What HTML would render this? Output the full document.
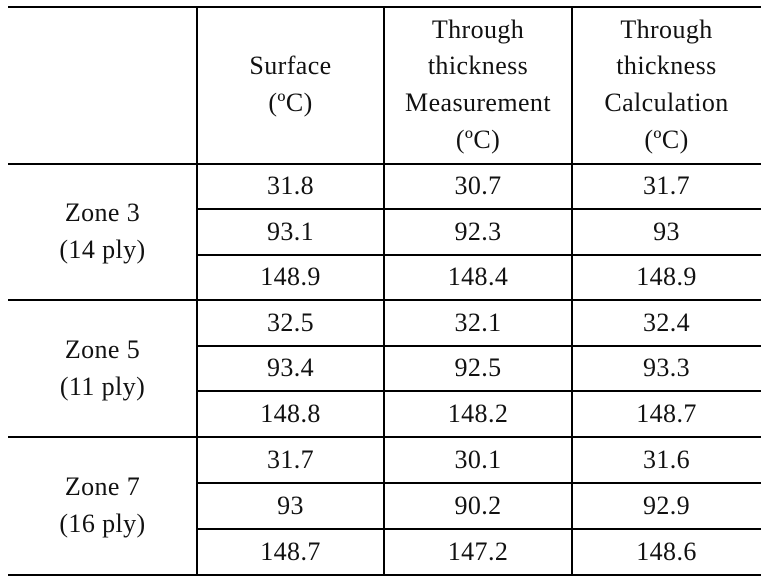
<!DOCTYPE html>
<html><head><meta charset="utf-8"><style>
body{margin:0;width:771px;height:585px;background:#fff;position:relative;overflow:hidden;font-family:"Liberation Serif",serif;color:#111}
.h{position:absolute;background:#000;height:2px}
.v{position:absolute;background:#000;width:2px}
.c{position:absolute;display:flex;align-items:center;justify-content:center;text-align:center;font-size:26px;line-height:36.7px;letter-spacing:0.4px}
</style></head><body>
<div id="t"></div>
<script>
const cols=[8,197,384,572,761];
const rows=[164,209,255,300,346,391,437,483,529,575];
const headers=["Surface<br>(ºC)","Through<br>thickness<br>Measurement<br>(ºC)","Through<br>thickness<br>Calculation<br>(ºC)"];
const zones=["Zone 3<br>(14 ply)","Zone 5<br>(11 ply)","Zone 7<br>(16 ply)"];
const surface=["31.8","93.1","148.9","32.5","93.4","148.8","31.7","93","148.7"];
const measured=["30.7","92.3","148.4","32.1","92.5","148.2","30.1","90.2","147.2"];
const calculated=["31.7","93","148.9","32.4","93.3","148.7","31.6","92.9","148.6"];
const t=document.getElementById('t');
function line(cls,x,y,w,h,name){const d=document.createElement('div');d.className=cls;d.style.left=x+'px';d.style.top=y+'px';
if(w)d.style.width=w+'px';if(h)d.style.height=h+'px';


t.appendChild(d);}
function cell(x,y,w,h,html,name){const d=document.createElement('div');d.className='c';d.style.left=x+'px';d.style.top=y+'px';d.style.width=w+'px';d.style.height=h+'px';d.innerHTML=html;


t.appendChild(d);}
line('h',8,6,753,0,'top-border');
line('h',8,rows[0]-1,753,0,'header-rule');
rows.slice(1).forEach((y,i)=>{const full=(i%3==2);line('h',full?8:cols[1],y-1,full?753:cols[4]-cols[1],0,full?'group-rule':'row-rule');});
for(let k=1;k<4;k++)line('v',cols[k]-1,6,0,rows[9]-6,'column-divider');
headers.forEach((h,i)=>cell(cols[i+1],6,cols[i+2]-cols[i+1],rows[0]-6,h,'column-header'));
zones.forEach((z,i)=>cell(cols[0],rows[i*3],cols[1]-cols[0],rows[i*3+3]-rows[i*3],z,'zone-label'));
[surface,measured,calculated].forEach((arr,c)=>arr.forEach((v,r)=>cell(cols[c+1],rows[r],cols[c+2]-cols[c+1],rows[r+1]-rows[r],v,'value-cell')));
</script>
</body></html>
